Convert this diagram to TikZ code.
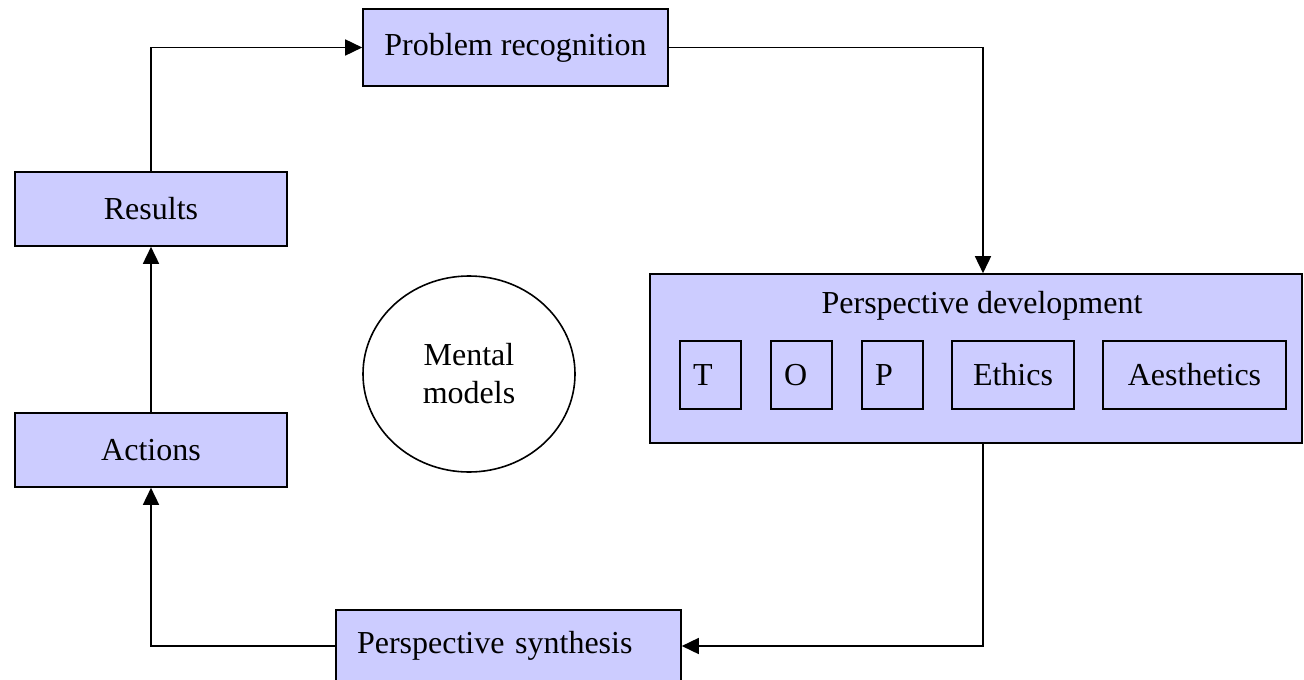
\documentclass[tikz,border=0pt]{standalone}
\usepackage{fontspec}
\setmainfont{Liberation Serif}
\usetikzlibrary{arrows.meta,shapes.geometric}
\definecolor{boxblue}{HTML}{CCCCFF}

\begin{document}
\begin{tikzpicture}[x=1pt,y=-1pt,line width=1.6pt,
	every node/.style={font=\fontsize{32}{38}\selectfont},
	stage/.style={draw,fill=boxblue,minimum width=272pt,minimum height=74pt,inner sep=0pt},
	part/.style={draw,minimum height=68pt,inner sep=0pt},
	letter/.style={part,text width=35pt,inner xsep=13pt,align=left},
	flow/.style={-{Triangle[length=17pt,width=16pt]}}]
	\useasboundingbox (0,0) rectangle (1304,680);
	% stages of the cycle
	\node[stage,minimum width=305pt,minimum height=77pt] (prob) at (515.5,47.5) {Problem recognition};
	\node[stage] (results) at (151,209) {Results};
	\node[stage] (actions) at (151,450) {Actions};
	\node[stage,minimum width=345pt,minimum height=72pt,text width=303pt,inner xsep=21pt,align=left] (persyn) at (508.5,646) {Perspective synthesis};
	% perspective development with its parts
	\node[draw,fill=boxblue,minimum width=652pt,minimum height=169pt] (persdev) at (976,358.5) {};
	\node (devtitle) at (982,306) {Perspective development};
	\node[letter] (tech) at (710.5,375) {T};
	\node[letter] (org) at (801.5,375) {O};
	\node[letter] (pers) at (892.5,375) {P};
	\node[part,minimum width=122pt] (ethics) at (1013,375) {Ethics};
	\node[part,minimum width=183pt] (aesth) at (1194.5,375) {Aesthetics};
	% mental models
	\node[draw,ellipse,minimum width=212pt,minimum height=196pt,inner sep=0pt,align=center] (mental) at (469,374) {Mental\\models};
	% arrows
	\draw[flow] (results) |- (prob);
	\draw[flow] (prob) -| ([xshift=7pt]persdev.north);
	\draw[flow] ([xshift=7pt]persdev.south) |- (persyn);
	\draw[flow] (persyn) -| (actions);
	\draw[flow] (actions) -- (results);
\end{tikzpicture}
\end{document}
